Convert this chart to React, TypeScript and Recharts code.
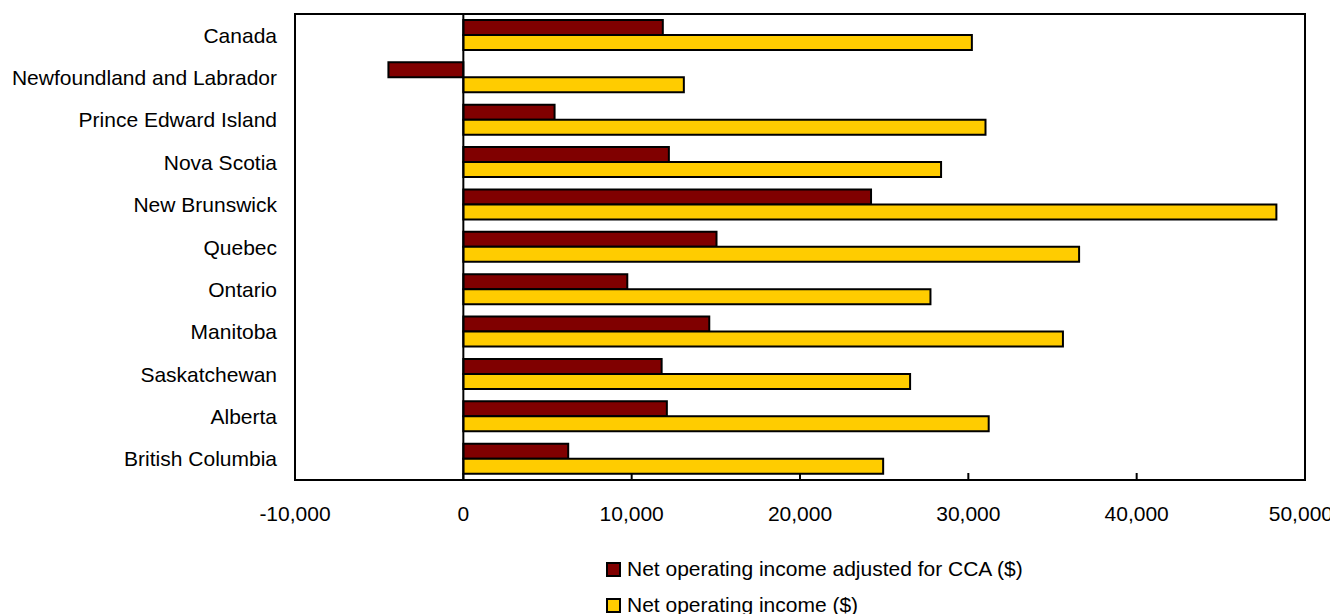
import React from "react";
import {
  BarChart,
  Bar,
  XAxis,
  YAxis,
  ReferenceLine,
  ReferenceArea,
  Legend,
} from "recharts";

const categories = [
  "Canada",
  "Newfoundland and Labrador",
  "Prince Edward Island",
  "Nova Scotia",
  "New Brunswick",
  "Quebec",
  "Ontario",
  "Manitoba",
  "Saskatchewan",
  "Alberta",
  "British Columbia",
];

const adjustedForCCA = [11850, -4450, 5420, 12210, 24220, 15040, 9740, 14610, 11780, 12090, 6230];
const netOperatingIncome = [30210, 13100, 31020, 28380, 48300, 36580, 27750, 35620, 26540, 31210, 24940];

const xTicks = [-10000, 0, 10000, 20000, 30000, 40000, 50000];

const seriesNames = ["Net operating income adjusted for CCA ($)", "Net operating income ($)"];
const seriesColors = ["#800000", "#FFCC00"];

const data = categories.map((name, i) => ({
  name,
  cca: adjustedForCCA[i],
  noi: netOperatingIncome[i],
}));

const FONT = "'Liberation Sans', Arial, sans-serif";

const fmt = (v: number) => v.toLocaleString("en-US");

const XTick = (props: any) => {
  const { x, y, payload } = props;
  const isLast = Number(payload.value) === 50000;
  return (
    <g>
      <line x1={x} x2={x} y1={y - 7} y2={y} stroke="#000" strokeWidth={2} />
      <text
        x={isLast ? x + 28 : x}
        y={y + 33}
        textAnchor={isLast ? "end" : "middle"}
        dominantBaseline="central"
        fontSize={21}
        fontFamily={FONT}
        fill="#000"
      >
        {fmt(payload.value)}
      </text>
    </g>
  );
};

const YTick = (props: any) => {
  const { x, y, payload } = props;
  return (
    <text
      x={x}
      y={y}
      textAnchor="end"
      dominantBaseline="central"
      fontSize={21}
      fontFamily={FONT}
      fill="#000"
    >
      {payload.value}
    </text>
  );
};

const LegendContent = () => (
  <div style={{ fontFamily: FONT, fontSize: 21, color: "#000" }}>
    {seriesNames.map((n, i) => (
      <div key={n} style={{ height: 36, display: "flex", alignItems: "center" }}>
        <div
          style={{
            width: 15,
            height: 15,
            boxSizing: "border-box",
            border: "2px solid #000",
            background: seriesColors[i],
            marginRight: 6,
            flexShrink: 0,
          }}
        />
        <span style={{ whiteSpace: "nowrap" }}>{n}</span>
      </div>
    ))}
  </div>
);

export default function App() {
  return (
    <div style={{ fontFamily: FONT }}>
      <style>{`html, body { overflow: hidden; } .recharts-surface { overflow: visible; }`}</style>
      <BarChart
        width={1330}
        height={620}
        data={data}
        layout="vertical"
        margin={{ top: 6, right: 33, left: 0, bottom: 5 }}
        barCategoryGap={6}
        barGap={0}
      >
        <XAxis
          type="number"
          domain={[-10000, 50000]}
          ticks={xTicks}
          allowDataOverflow
          axisLine={false}
          tickLine={false}
          tickSize={0}
          tickMargin={0}
          height={71}
          tick={(p: any) => <XTick {...p} />}
          interval={0}
        />
        <YAxis
          type="category"
          dataKey="name"
          width={287}
          axisLine={false}
          tickLine={false}
          tickSize={0}
          tickMargin={18}
          tick={<YTick />}
          interval={0}
        />
        <ReferenceArea
          x1={-10000}
          x2={50000}
          fill="none"
          fillOpacity={0}
          stroke="#000"
          strokeWidth={2}
          ifOverflow="extendDomain"
        />
        <Bar
          dataKey="cca"
          name={seriesNames[0]}
          fill={seriesColors[0]}
          stroke="#000"
          strokeWidth={2}
          isAnimationActive={false}
        />
        <Bar
          dataKey="noi"
          name={seriesNames[1]}
          fill={seriesColors[1]}
          stroke="#000"
          strokeWidth={2}
          isAnimationActive={false}
        />
        <ReferenceLine x={0} stroke="#000" strokeWidth={2} />
        <Legend
          verticalAlign="bottom"
          content={<LegendContent />}
          wrapperStyle={{ left: 598, width: 520 }}
        />
      </BarChart>
    </div>
  );
}
